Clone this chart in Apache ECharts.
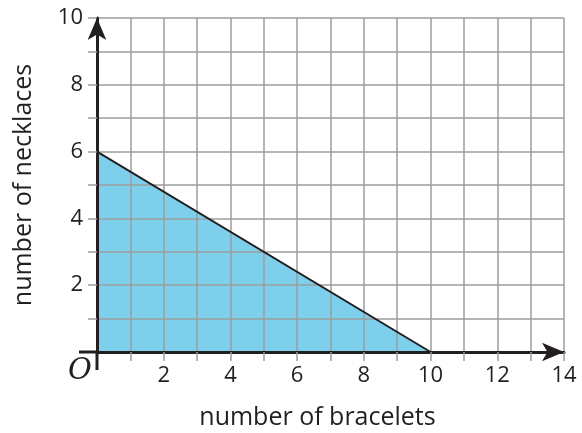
<!DOCTYPE html>
<html>
<head>
<meta charset="utf-8">
<script src="https://cdn.jsdelivr.net/npm/echarts@6/dist/echarts.min.js"></script>
<style>
  html, body { margin: 0; padding: 0; background: #fff; }
  #main { width: 582px; height: 433px; }
</style>
</head>
<body>
<div id="main"></div>
<script>
// bracelets (x) and necklaces (y) along the boundary line
const boundaryX = [0, 10];
const boundaryY = [6, 0];
const xLabels = [2, 4, 6, 8, 10, 12, 14];
const yLabels = [2, 4, 6, 8, 10];

const ink = '#231f20';
const gridGray = '#9d9d9d';
const font = 'Open Sans';

const points = boundaryX.map((x, i) => [x, boundaryY[i]]);

var chart = echarts.init(document.getElementById('main'));
var option = {
  animation: false,
  grid: { left: 97, right: 18, top: 18, bottom: 81, containLabel: false, outerBoundsMode: 'none' },
  xAxis: {
    type: 'value', min: 0, max: 14, interval: 1,
    name: 'number of bracelets',
    nameLocation: 'middle', nameGap: 53,
    nameTextStyle: { fontFamily: font, fontSize: 25, color: ink, padding: [0, 26, 0, 0] },
    axisLine: { show: true, symbol: ['none', 'arrow'], symbolSize: [14, 22], lineStyle: { color: ink, width: 3 } },
    axisTick: { show: true, length: 9, lineStyle: { color: gridGray, width: 1.5 } },
    splitLine: { show: true, lineStyle: { color: gridGray, width: 1.5 } },
    axisLabel: {
      margin: 13, fontFamily: font, fontSize: 22, color: ink,
      formatter: v => (xLabels.indexOf(v) >= 0 ? String(v) : '')
    }
  },
  yAxis: {
    type: 'value', min: 0, max: 10, interval: 1,
    name: 'number of necklaces',
    nameLocation: 'middle', nameGap: 55,
    nameTextStyle: { fontFamily: font, fontSize: 25, color: ink, padding: [0, 0, 6, 0] },
    axisLine: { show: true, symbol: ['none', 'arrow'], symbolSize: [14, 22], lineStyle: { color: ink, width: 3 } },
    axisTick: { show: true, length: 9, lineStyle: { color: gridGray, width: 1.5 } },
    splitLine: { show: true, lineStyle: { color: gridGray, width: 1.5 } },
    axisLabel: {
      margin: 14, fontFamily: font, fontSize: 22, color: ink,
      formatter: v => (yLabels.indexOf(v) >= 0 ? String(v) : '')
    }
  },
  series: [
    {
      // shaded region, under the grid lines
      type: 'line', data: points, symbol: 'none', z: -1,
      lineStyle: { width: 0 },
      areaStyle: { color: '#7ecfec', opacity: 1 }
    },
    {
      type: 'line', data: points, symbol: 'none', z: 5,
      lineStyle: { color: ink, width: 2 }
    }
  ]
};
chart.setOption(option);

// axis lines run a bit past the origin, plus the script O
const o = chart.convertToPixel({ gridIndex: 0 }, [0, 0]);
chart.setOption({
  graphic: [
    { type: 'line', shape: { x1: o[0] - 18, y1: o[1], x2: o[0], y2: o[1] }, style: { stroke: ink, lineWidth: 3 }, z: 10 },
    { type: 'line', shape: { x1: o[0], y1: o[1], x2: o[0], y2: o[1] + 18 }, style: { stroke: ink, lineWidth: 3 }, z: 10 },
    {
      type: 'text', x: o[0] - 17, y: o[1] + 19, z: 10,
      style: { text: 'O', fontFamily: 'DejaVu Serif', fontStyle: 'italic', fontSize: 29, fill: ink, align: 'center', verticalAlign: 'middle' }
    }
  ]
});
</script>
</body>
</html>
